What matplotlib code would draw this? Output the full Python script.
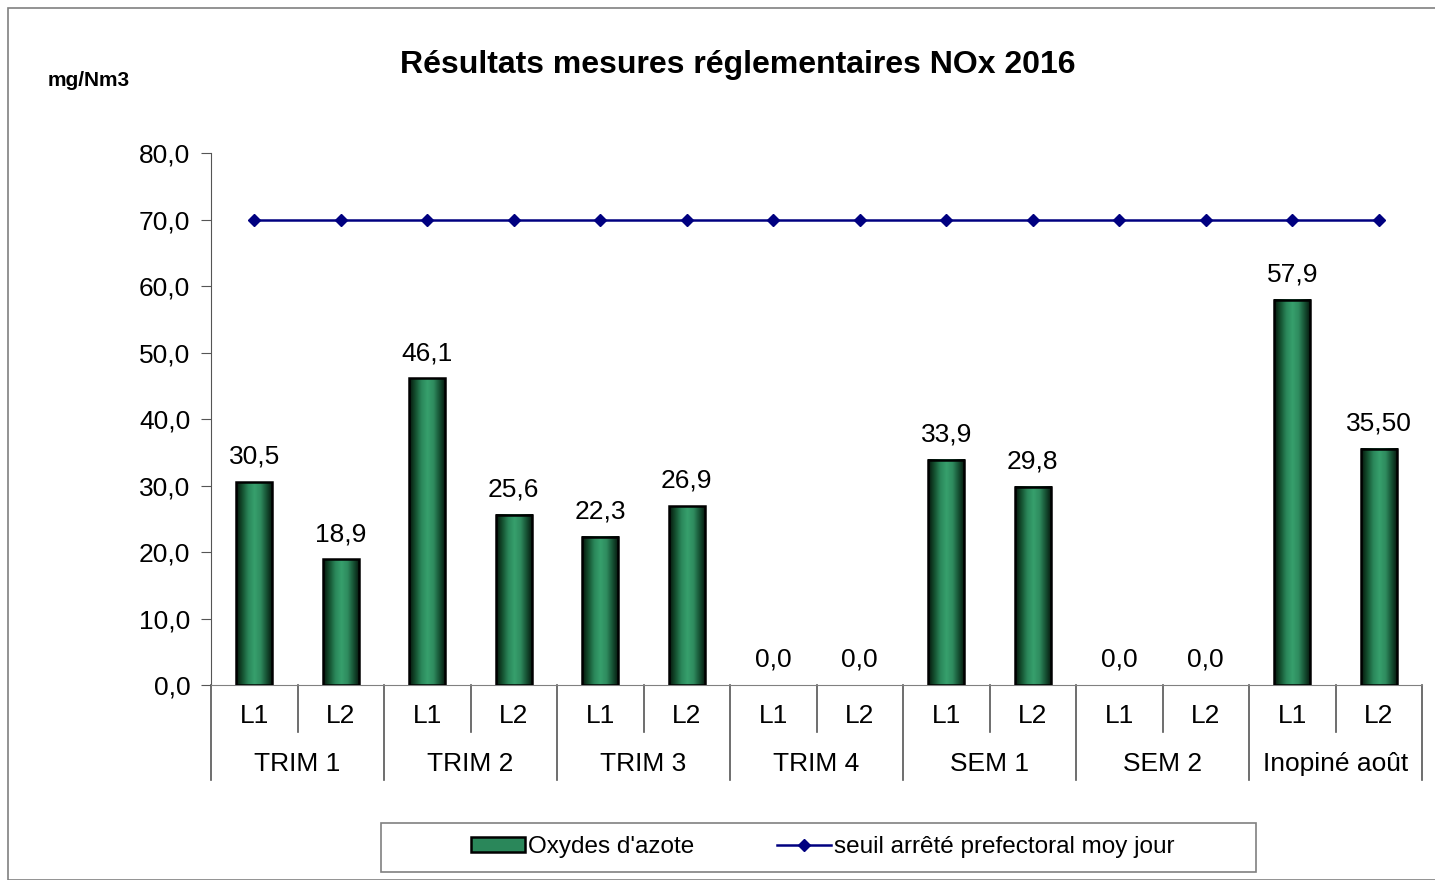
import numpy as np
import matplotlib
matplotlib.use("Agg")
import matplotlib.pyplot as plt
from matplotlib.colors import LinearSegmentedColormap
from matplotlib.patches import Rectangle, Patch
from matplotlib.lines import Line2D
import matplotlib.transforms as mtransforms

plt.rcParams["font.family"] = ["Liberation Sans", "DejaVu Sans"]

# data
groups = ["TRIM 1", "TRIM 2", "TRIM 3", "TRIM 4", "SEM 1", "SEM 2", "Inopiné août"]
lines = ["L1", "L2"]
nox = [30.5, 18.9, 46.1, 25.6, 22.3, 26.9, 0.0, 0.0, 33.9, 29.8, 0.0, 0.0, 57.9, 35.50]
nox_labels = ["30,5", "18,9", "46,1", "25,6", "22,3", "26,9", "0,0", "0,0",
              "33,9", "29,8", "0,0", "0,0", "57,9", "35,50"]
seuil = [70.0] * 14
yticks = [0, 10, 20, 30, 40, 50, 60, 70, 80]

W, H = 1435, 880
FS = 19
fig = plt.figure(figsize=(W / 100, H / 100), dpi=100)
fig.patches.append(Rectangle((8 / W, 0), 1 - 8 / W + 0.01, 1 - 8 / H, transform=fig.transFigure,
                             fill=False, edgecolor="#808080", linewidth=1.2))

ax = fig.add_axes([211 / W, 1 - 685 / H, (1422 - 211) / W, (685 - 153) / H])
x = np.arange(len(nox))

# bars with horizontal gradient
cmap = LinearSegmentedColormap.from_list(
    "grn", ["#05140b", "#14502f", "#2a875a", "#37a06d", "#2f8c5f", "#165234", "#05140b"])
grad = np.linspace(0, 1, 64).reshape(1, -1)
bars = ax.bar(x, nox, width=0.42, facecolor="#2e8b57", edgecolor="none", linewidth=0, zorder=2)
for b in bars:
    if b.get_height() <= 0:
        continue
    ax.imshow(grad, cmap=cmap, aspect="auto", zorder=2.5,
              extent=(b.get_x(), b.get_x() + b.get_width(), 0, b.get_height()))
    ax.add_patch(Rectangle((b.get_x(), 0), b.get_width(), b.get_height(),
                           fill=False, edgecolor="black", linewidth=1.8, zorder=3))
ax.set_xlim(-0.5, len(nox) - 0.5)
ax.set_ylim(0, 80)

for xi, v, lab in zip(x, nox, nox_labels):
    ax.text(xi, v + 2.0, lab, ha="center", va="bottom", fontsize=FS)

ax.plot(x, seuil, color="#000080", linewidth=1.8, marker="D", markersize=6, zorder=4)

# axes styling
for s in ["top", "right"]:
    ax.spines[s].set_visible(False)
ax.spines["left"].set_color("#555555")
ax.spines["bottom"].set_color("#808080")
ax.set_yticks(yticks)
ax.set_yticklabels([f"{t:.1f}".replace(".", ",") for t in yticks], fontsize=FS)
ax.tick_params(axis="y", length=7, color="#555555", pad=8)
ax.set_xticks([])

# category axis labels and separators
tr = mtransforms.blended_transform_factory(ax.transData, ax.transAxes)
for xi in x:
    ax.text(xi, -0.058, lines[xi % 2], transform=tr, ha="center", va="center", fontsize=FS)
for gi, g in enumerate(groups):
    ax.text(2 * gi + 0.5, -0.149, g, transform=tr, ha="center", va="center", fontsize=FS)
for k in range(len(nox) + 1):
    xs = k - 0.5
    bottom = -0.179 if k % 2 == 0 else -0.088
    ax.plot([xs, xs], [0.0, bottom], transform=tr, color="#555555", linewidth=1.2, clip_on=False)

fig.text(738 / W, 1 - 65 / H, "Résultats mesures réglementaires NOx 2016",
         ha="center", va="center", fontsize=23, fontweight="bold")
fig.text(48 / W, 1 - 81 / H, "mg/Nm3", ha="left", va="center", fontsize=15, fontweight="bold")

# legend
fig.patches.append(Rectangle((381 / W, 1 - 872 / H), 875 / W, 49 / H, transform=fig.transFigure,
                             fill=False, edgecolor="#808080", linewidth=1.2))
handles = [Patch(facecolor="#2a875a", edgecolor="black", linewidth=1.8),
           Line2D([], [], color="#000080", linewidth=1.8, marker="D", markersize=6)]
fig.legend(handles, ["Oxydes d'azote", "seuil arrêté prefectoral moy jour"],
           loc="center", bbox_to_anchor=(823 / W, 1 - 847 / H), ncol=2, frameon=False,
           fontsize=17.5, handlelength=2.2, handleheight=0.55, handletextpad=0.15,
           columnspacing=3.4)

fig.savefig("out.png", dpi=100)
